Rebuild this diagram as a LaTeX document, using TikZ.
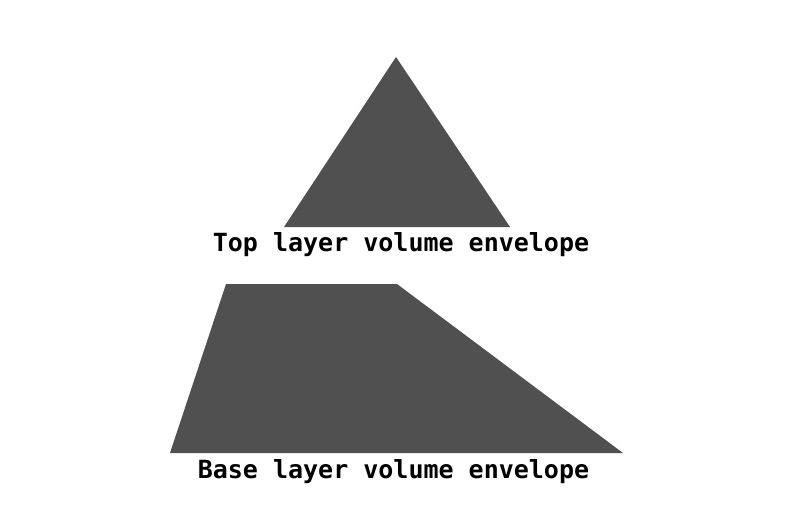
\documentclass[tikz,border=0pt]{standalone}
\usepackage{fontspec}
\setmonofont{DejaVu Sans Mono}
\definecolor{envgray}{HTML}{505050}

\begin{document}
\begin{tikzpicture}[x=1pt,y=-1pt,
  envelope/.style={fill=envgray,draw=none},
  caption/.style={font=\fontsize{25}{30}\selectfont\ttfamily\bfseries,anchor=base,inner sep=0pt}]
\useasboundingbox (0,0) rectangle (800,517);
% top layer
\fill[envelope] (396,57) -- (510,227) -- (284,227) -- cycle;
\node[caption] (toplabel) at (401,251.5) {Top layer volume envelope};
% base layer
\fill[envelope] (226,284) -- (397,284) -- (623,453) -- (170,453) -- cycle;
\node[caption] (baselabel) at (393.5,478.5) {Base layer volume envelope};
\end{tikzpicture}
\end{document}
